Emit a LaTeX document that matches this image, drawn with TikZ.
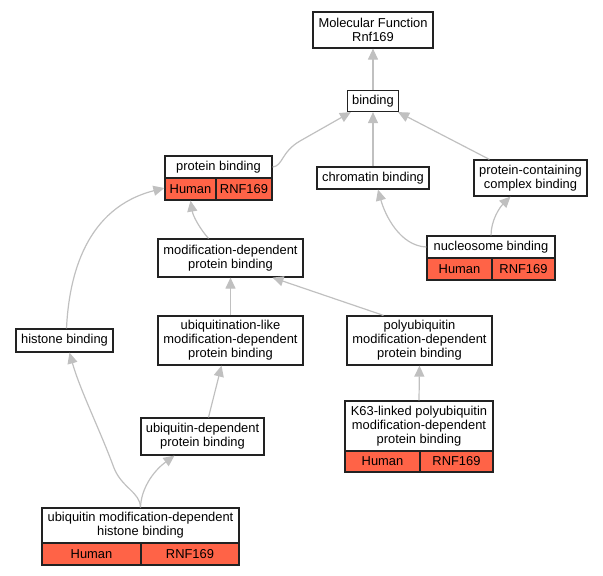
\documentclass[tikz,border=0pt]{standalone}
\usepackage{fontspec}
\setmainfont{Liberation Sans}
\usetikzlibrary{arrows.meta}
\definecolor{tomato}{HTML}{FF6347}
\definecolor{edgegray}{HTML}{C0C0C0}
\definecolor{border}{HTML}{222222}
\begin{document}
\begin{tikzpicture}[x=1pt,y=-1pt,
  box/.style={draw=border, fill=white, line width=1.2pt, inner sep=0pt, align=center,
    font=\fontsize{12.9}{14}\selectfont},
  cell/.style={box, fill=tomato, minimum height=22pt},
  edge/.style={draw=edgegray, line width=1.2pt, -{Triangle[length=11pt,width=10pt]}}]
\useasboundingbox (0,0) rectangle (603,576);
% nodes
\node[box, minimum width=120pt, minimum height=36pt] (mf) at (373,30) {Molecular Function\\Rnf169};
\node[box, minimum width=51pt, minimum height=21pt] (bind) at (373,101) {binding};
\node[box, minimum width=107pt, minimum height=22pt] (pbt) at (218.5,167) {protein binding};
\node[cell, minimum width=51pt] (pbh) at (190.5,189) {Human};
\node[cell, minimum width=56pt] (pbr) at (244,189) {RNF169};
\node[box, minimum width=112pt, minimum height=22pt] (chrom) at (373,178) {chromatin binding};
\node[box, minimum width=113pt, minimum height=36pt] (pc) at (530.5,178) {protein-containing\\complex binding};
\node[box, minimum width=128pt, minimum height=22pt] (nuct) at (491,247) {nucleosome binding};
\node[cell, minimum width=65pt] (nuch) at (459.5,269) {Human};
\node[cell, minimum width=63pt] (nucr) at (523.5,269) {RNF169};
\node[box, minimum width=145pt, minimum height=38pt] (mdep) at (230.5,258) {modification-dependent\\protein binding};
\node[box, minimum width=97pt, minimum height=23pt] (hist) at (64.5,340.5) {histone binding};
\node[box, minimum width=145pt, minimum height=49pt] (ubl) at (230.5,340.5) {ubiquitination-like\\modification-dependent\\protein binding};
\node[box, minimum width=145pt, minimum height=49pt] (poly) at (419.5,340.5) {polyubiquitin\\modification-dependent\\protein binding};
\node[box, minimum width=123pt, minimum height=37pt] (ubd) at (202.5,436.5) {ubiquitin-dependent\\protein binding};
\node[box, minimum width=148pt, minimum height=50pt] (kt) at (419,426) {K63-linked polyubiquitin\\modification-dependent\\protein binding};
\node[cell, minimum width=75pt, minimum height=21pt] (kh) at (382.5,461.5) {Human};
\node[cell, minimum width=73pt, minimum height=21pt] (kr) at (456.5,461.5) {RNF169};
\node[box, minimum width=197pt, minimum height=35pt] (umdh) at (140.5,525.5) {ubiquitin modification-dependent\\histone binding};
\node[cell, minimum width=99pt] (uh) at (91.5,554) {Human};
\node[cell, minimum width=98pt] (ur) at (190,554) {RNF169};
% edges
\draw[edge] (bind.north) -- (mf.south);
\draw[edge] (pbt.east) .. controls (283,166) and (281,152) .. (300,141) -- ([xshift=4pt]bind.south west);
\draw[edge] (chrom.north) -- (bind.south);
\draw[edge] ([xshift=16pt]pc.north west) -- ([xshift=-1pt]bind.south east);
\draw[edge] (nuct.west) .. controls (400,246) and (385,215) .. ([xshift=5pt]chrom.south);
\draw[edge] (nuct.north) .. controls (491,220) and (500,207) .. ([xshift=-20pt]pc.south);
\draw[edge] ([xshift=-22pt]mdep.north) .. controls (200,229) and (193,216) .. (pbh.south);
\draw[edge] ([xshift=2pt]hist.north) .. controls (69,275) and (86,208) .. ([yshift=1pt]pbh.west);
\draw[edge] (ubl.north) -- (mdep.south);
\draw[edge] ([xshift=-36pt]poly.north) -- ([xshift=42pt]mdep.south);
\draw[edge] ([xshift=6pt]ubd.north) -- ([xshift=-9pt]ubl.south);
\draw[edge] (kt.north) -- (poly.south);
\draw[edge] (umdh.north) .. controls (140,492) and (122,488) .. (114,468) .. controls (100,430) and (80,390) .. ([xshift=5pt]hist.south);
\draw[edge] (umdh.north) .. controls (141,490) and (152,472) .. ([xshift=-28pt]ubd.south);
\end{tikzpicture}
\end{document}
